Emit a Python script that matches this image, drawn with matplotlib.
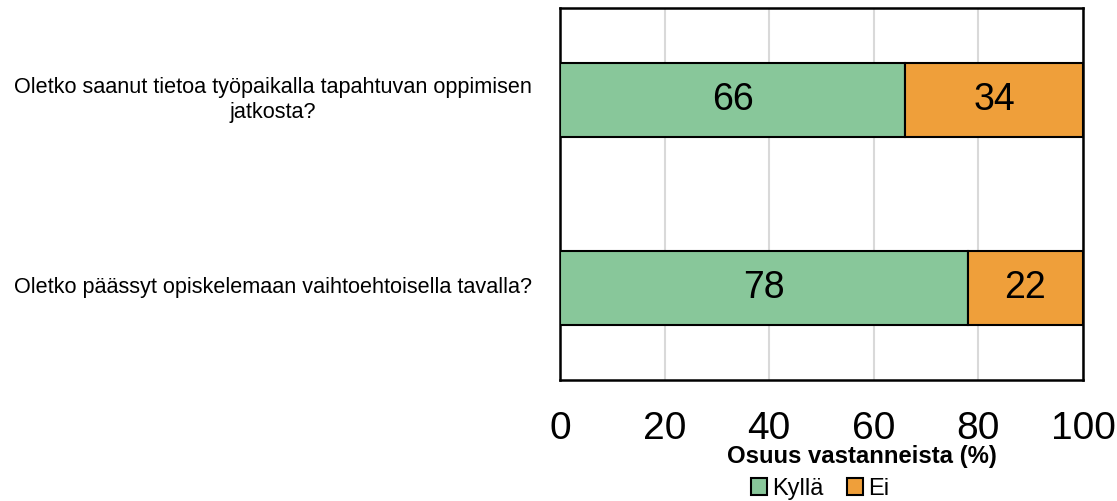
import matplotlib
matplotlib.use("Agg")
import matplotlib.pyplot as plt
import matplotlib.transforms as mtransforms
import numpy as np

plt.rcParams['font.family'] = ['Liberation Sans', 'DejaVu Sans']

questions = ["Oletko saanut tietoa työpaikalla tapahtuvan oppimisen\njatkosta?",
             "Oletko päässyt opiskelemaan vaihtoehtoisella tavalla?"]
kylla = [66, 78]
ei = [34, 22]
xticks = [0, 20, 40, 60, 80, 100]

green = "#88c79a"
orange = "#ef9f3a"

fig = plt.figure(figsize=(11.17, 5.01), dpi=100)
ax = fig.add_axes([560/1117, 1-380/501, 523/1117, 372/501])

y = np.arange(len(questions))
ax.barh(y, kylla, height=0.39, color=green, edgecolor="black", linewidth=1.5, label="Kyllä", zorder=3)
ax.barh(y, ei, left=kylla, height=0.39, color=orange, edgecolor="black", linewidth=1.5, label="Ei", zorder=3)

for i in range(len(questions)):
    ax.text(kylla[i]/2, y[i], str(kylla[i]), ha="center", va="center", fontsize=27, zorder=4)
    ax.text(kylla[i] + ei[i]/2, y[i], str(ei[i]), ha="center", va="center", fontsize=27, zorder=4)

ax.set_xlim(0, 100)
ax.set_ylim(1.49, -0.49)
ax.set_xticks(xticks)
ax.set_xticklabels([str(t) for t in xticks], fontsize=28)
ax.tick_params(axis="x", length=0, pad=22)
ax.set_yticks(y)
ax.set_yticklabels([])
ax.tick_params(axis="y", length=0)
ax.grid(axis="x", color="#d9d9d9", linewidth=1.5, zorder=0)
for s in ax.spines.values():
    s.set_linewidth(1.8)
    s.set_color("black")

# question labels centred in the left area
trans = mtransforms.blended_transform_factory(fig.transFigure, ax.transData)
for i, q in enumerate(questions):
    ax.text(273/1117, y[i], q, transform=trans, ha="center", va="center",
            fontsize=15.6, multialignment="center", linespacing=1.2)

fig.text(862/1117, 1-456/501, "Osuus vastanneista (%)", ha="center", va="center",
         fontsize=17.2, fontweight="bold")
fig.legend(loc="center", bbox_to_anchor=(820/1117, 1-489/501), ncol=2, frameon=False,
           fontsize=17, handlelength=0.7, handleheight=0.7, handletextpad=0.2,
           columnspacing=1.0, borderpad=0)

fig.savefig("out.png", dpi=100)
